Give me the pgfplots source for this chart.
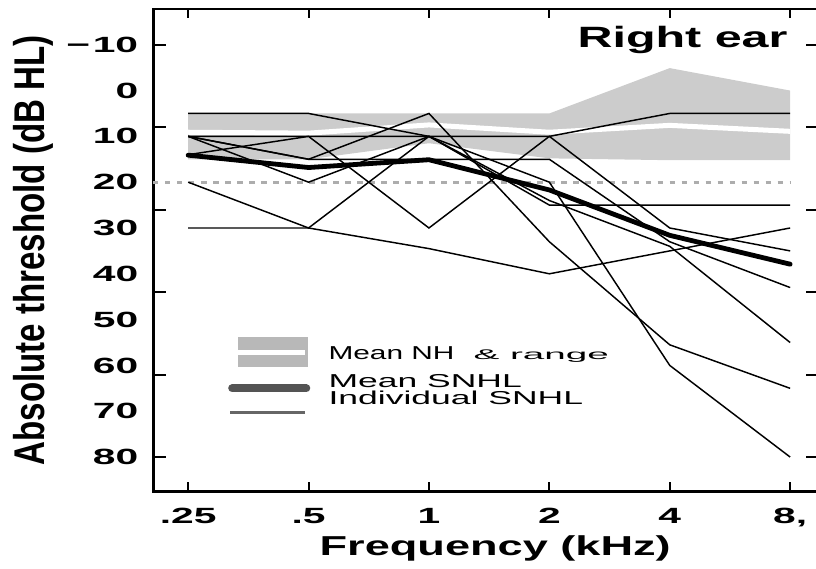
\documentclass[border=0pt]{standalone}
\usepackage{fontspec}
\setmainfont{Liberation Sans}[FakeStretch=1.65]
\newfontfamily\ylabfont{Liberation Sans}
\newfontfamily\tickfont{Liberation Sans}[FakeStretch=1.85]
\newfontfamily\legfont{Liberation Sans}[FakeStretch=1.9]
\usepackage{pgfplots}
\pgfplotsset{compat=1.18}
\definecolor{bandgray}{gray}{0.8}
\definecolor{leggray}{gray}{0.72}
\definecolor{dashgray}{gray}{0.68}
\begin{document}
\begin{tikzpicture}
\begin{axis}[
  scale only axis, width=498.75pt, height=361.5pt,
  xmin=-0.291, xmax=5.237, ymin=-17.8, ymax=87.5, y dir=reverse,
  axis line style={line width=2.2pt},
  tick align=inside, major tick length=6.75pt,
  every tick/.style={black, line width=1.5pt},
  xtick={0,1,2,3,4,5}, xticklabels={.25,.5,1,2,4,{8,}},
  ytick={-10,0,10,20,30,40,50,60,70,80},
  yticklabels={{−\hspace{2pt}10},0,10,20,30,40,50,60,70,80},
  ytick style={draw=none},
  extra y ticks={-10,8,26,44,62,80}, extra y tick labels={},
  extra y tick style={major tick length=9.75pt, ytick style={draw=black}},
  ticklabel style={font=\tickfont\fontsize{16.5pt}{18pt}\selectfont\bfseries},
  yticklabel style={anchor=east, inner sep=0pt, xshift=-11pt},
  xticklabel style={anchor=north, inner sep=0pt, yshift=-12.5pt},
  xlabel={Frequency (kHz)},
  xlabel style={font=\fontsize{20.5pt}{22pt}\selectfont\bfseries, at={(axis description cs:0.514,-0.118)}, anchor=center},
  ylabel={\scalebox{1}[1.3]{\ylabfont\bfseries Absolute threshold (dB HL)}},
  ylabel style={font=\fontsize{24.8pt}{27pt}\selectfont, at={(axis description cs:-0.18,0.5)}, anchor=center},
  clip=false,
]
% NH range band and mean
\addplot[fill=bandgray, draw=none] coordinates {(0,5)(1,5)(2,5)(3,5)(4,-4.9)(5,0)(5,15.2)(4,15.2)(3,14.8)(2,11.5)(1,15)(0,15)} -- cycle;
\addplot[white, line width=3.75pt] coordinates {(0,9.1)(1,9.3)(2,7.5)(3,9.1)(4,7.6)(5,8.9)};
% 20 dB reference
\addplot[dashgray, line width=2.5pt, dash pattern=on 4pt off 5pt] coordinates {(-0.291,20)(5,20)};
% individual SNHL
\pgfplotsset{ind/.style={black, line width=1.1pt}}
\addplot[ind] coordinates {(0,5)(1,5)(2,10)(3,20)(4,60)(5,80)};
\addplot[ind] coordinates {(0,10)(1,10)(2,10)(3,10)(4,5)(5,5)};
\addplot[ind] coordinates {(0,14)(1,10)(2,30)(3,10)(4,30)(5,35)};
\addplot[ind] coordinates {(0,10)(1,15)(2,15)(3,15)(4,33)(5,43)};
\addplot[ind] coordinates {(0,10)(1,15)(2,5)(3,33)(4,55.5)(5,65)};
\addplot[ind] coordinates {(0,10)(1,20)(2,10)(3,24)(4,34)(5,55)};
\addplot[ind] coordinates {(0,20)(1,30)(2,10)(3,25)(4,25)(5,25)};
\addplot[ind] coordinates {(0,30)(1,30)(2,34.5)(3,40)(4,35)(5,30)};
% mean SNHL
\addplot[black, line width=3.6pt, line join=round, line cap=round] coordinates {(0,14.1)(1,16.8)(2,15.1)(3,21.7)(4,31.6)(5,37.9)};
% legend
\fill[leggray] (axis description cs:0.1278,0.2573) rectangle (axis description cs:0.2331,0.3195);
\draw[white, line width=3.75pt] (axis description cs:0.1278,0.2884) -- (axis description cs:0.2286,0.2884);
\draw[black!67, line width=6pt, line cap=round] (axis description cs:0.1188,0.2137) -- (axis description cs:0.2301,0.2137);
\draw[black!60, line width=2.25pt] (axis description cs:0.1158,0.1639) -- (axis description cs:0.2286,0.1639);
\node[anchor=base west, inner sep=0pt, font=\legfont\fontsize{14pt}{16pt}\selectfont] at (axis description cs:0.2632,0.2739) {\scalebox{0.84}[1]{Mean NH}};
\node[anchor=base west, inner sep=0pt, font=\legfont\fontsize{10.5pt}{12pt}\selectfont] at (axis description cs:0.4812,0.2739) {\scalebox{1.45}[1]{\& range}};
\node[anchor=base west, inner sep=0pt, font=\legfont\fontsize{14pt}{16pt}\selectfont] at (axis description cs:0.2632,0.2158) {Mean SNHL};
\node[anchor=base west, inner sep=0pt, font=\legfont\fontsize{14pt}{16pt}\selectfont] at (axis description cs:0.2632,0.1805) {Individual SNHL};
\node[anchor=base, inner sep=0pt, font=\fontsize{22pt}{24pt}\selectfont\bfseries] at (axis description cs:0.7955,0.9212) {Right ear};
\end{axis}
\pgfresetboundingbox
\path[use as bounding box] ([shift={(-114.75pt,-57.75pt)}]current axis.south west) rectangle ([shift={(-2pt,6.75pt)}]current axis.north east);
\end{tikzpicture}
\end{document}
